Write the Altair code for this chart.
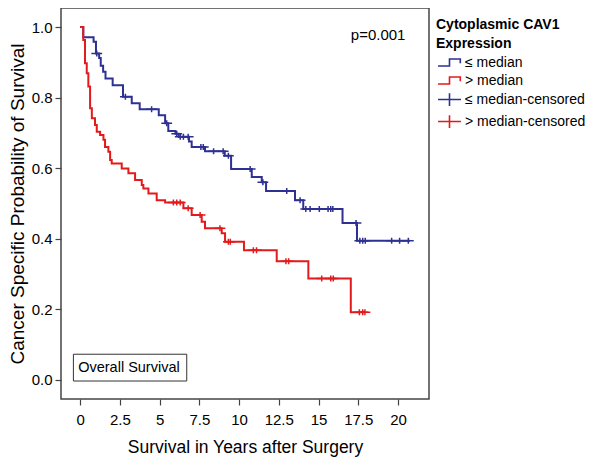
import altair as alt
import pandas as pd
import numpy as np

# ---- data ----
GROUPS = ["≤ median", "> median", "≤ median-censored", "> median-censored"]
COLORS = ["#2e3192", "#e31a1c", "#2e3192", "#e31a1c"]

# Kaplan-Meier steps (time in years, survival after the step)
LOW_T = [0, 0.2, 0.85, 1.0, 1.2, 1.3, 1.45, 1.6, 2.05, 2.7, 3.25, 3.75, 4.95, 5.35,
         5.55, 6.0, 6.2, 6.85, 7.02, 7.86, 9.1, 9.5, 10.8, 11.43, 11.7, 13.52, 14.04,
         16.51, 17.42, 20.75]
LOW_S = [1.0, 0.971, 0.958, 0.925, 0.912, 0.89, 0.873, 0.854, 0.835, 0.802, 0.784, 0.767,
         0.75, 0.727, 0.705, 0.697, 0.689, 0.675, 0.66, 0.648, 0.635, 0.597, 0.575, 0.56,
         0.535, 0.509, 0.484, 0.444, 0.394, 0.394]

HIGH_T = [0, 0.2, 0.31, 0.42, 0.52, 0.63, 0.74, 0.94, 1.05, 1.26, 1.47, 1.57, 1.78, 1.89,
          1.99, 2.62, 3.04, 3.46, 3.88, 3.98, 4.3, 4.82, 5.35, 6.5, 7.02, 7.65, 7.86, 8.91,
          9.12, 10.31, 12.37, 14.36, 17.03, 17.92]
HIGH_S = [1.0, 0.963, 0.897, 0.869, 0.831, 0.77, 0.741, 0.722, 0.703, 0.694, 0.68, 0.66,
          0.646, 0.623, 0.613, 0.599, 0.585, 0.566, 0.552, 0.542, 0.528, 0.509, 0.502, 0.486,
          0.467, 0.448, 0.429, 0.415, 0.391, 0.367, 0.336, 0.287, 0.191, 0.191]

# censoring times
LOW_CENS = [1.05, 2.85, 4.5, 5.45, 6.08, 6.3, 6.5, 6.8, 7.6, 7.75, 8.4, 9.0, 9.33, 10.7,
            11.5, 13.0, 13.84, 14.2, 14.47, 15.05, 15.6, 15.77, 15.9, 17.36, 17.6, 17.78,
            17.94, 19.6, 20.1, 20.65]
HIGH_CENS = [5.87, 6.08, 6.3, 6.8, 7.55, 8.8, 9.33, 9.45, 10.9, 11.1, 12.95, 13.12, 15.2,
             15.77, 15.93, 17.57, 17.78, 17.92]

X_TICKS = [0, 2.5, 5, 7.5, 10, 12.5, 15, 17.5, 20]
Y_TICKS = [0.0, 0.2, 0.4, 0.6, 0.8, 1.0]

P_TEXT = ["p=0.001"]
P_POS = ([18.75], [0.977])
BOX_TEXT = ["Overall Survival"]
BOX_X = [-0.42, 6.71]
BOX_Y = [-0.004, 0.072]
BOX_TEXT_POS = ([-0.12], [0.034])

STEP_PATH = "M-1.35,0.41H0V-0.41H1.27V0.1"
CROSS_PATH = "M-1.35,0H1.35M0,-0.75V0.75"
SHAPES = [STEP_PATH, STEP_PATH, CROSS_PATH, CROSS_PATH]

# ---- tables ----
lines_df = pd.concat([
    pd.DataFrame({"t": LOW_T, "s": LOW_S, "group": GROUPS[0]}),
    pd.DataFrame({"t": HIGH_T, "s": HIGH_S, "group": GROUPS[1]}),
])


def lookup(T, S, times):
    idx = np.searchsorted(np.array(T), np.array(times), side="right") - 1
    return [S[i] for i in idx]


cens_df = pd.concat([
    pd.DataFrame({"t": LOW_CENS, "s": lookup(LOW_T, LOW_S, LOW_CENS), "group": GROUPS[2]}),
    pd.DataFrame({"t": HIGH_CENS, "s": lookup(HIGH_T, HIGH_S, HIGH_CENS), "group": GROUPS[3]}),
])

FONT = "Liberation Sans"
xscale = alt.Scale(domain=[-1.2, 21.95], nice=False, zero=False)
yscale = alt.Scale(domain=[-0.055, 1.054], nice=False, zero=False)
line_scale = alt.Scale(domain=GROUPS[:2], range=COLORS[:2])
cscale = alt.Scale(domain=GROUPS, range=COLORS)
sscale = alt.Scale(domain=GROUPS, range=SHAPES)

xaxis = alt.Axis(values=X_TICKS, title="Survival in Years after Surgery",
                 labelExpr="datum.value % 1 == 0 ? format(datum.value, 'd') : format(datum.value, '.1f')",
                 grid=False, domain=False, tickSize=6, tickColor="#444", tickWidth=1.2,
                 labelFontSize=15, titleFontSize=17.5, titleFontWeight="normal",
                 labelPadding=7, titlePadding=11, labelColor="black", titleColor="black",
                 labelFlush=False)
yaxis = alt.Axis(values=Y_TICKS, format=".1f", title="Cancer Specific Probability of Survival",
                 grid=False, domain=False, tickSize=6, tickColor="#444", tickWidth=1.2,
                 labelFontSize=15, titleFontSize=19, titleFontWeight="normal",
                 labelPadding=3, titlePadding=4, labelColor="black", titleColor="black",
                 labelFlush=False)

legend = alt.Legend(title=["Cytoplasmic CAV1", "Expression"], orient="right",
                    offset=-3, padding=10,
                    titleFontSize=14, titleFontWeight="bold", titleColor="black",
                    titleLineHeight=19, titlePadding=2,
                    labelFontSize=14, labelColor="black", labelOffset=6,
                    symbolOffset=4,
                    symbolSize=289, symbolStrokeWidth=1.6, rowPadding=1)

lines = alt.Chart(lines_df).mark_line(interpolate="step-after", strokeWidth=2).encode(
    x=alt.X("t:Q", scale=xscale, axis=xaxis),
    y=alt.Y("s:Q", scale=yscale, axis=yaxis),
    stroke=alt.Stroke("group:N", scale=line_scale, legend=None),
)

cens = alt.Chart(cens_df).mark_point(filled=False, strokeWidth=1.5, size=64, opacity=1).encode(
    x=alt.X("t:Q", scale=xscale),
    y=alt.Y("s:Q", scale=yscale),
    color=alt.Color("group:N", scale=cscale, legend=legend),
    shape=alt.Shape("group:N", scale=sscale, legend=legend),
)

ptext = alt.Chart(pd.DataFrame({"t": P_POS[0], "s": P_POS[1], "label": P_TEXT})).mark_text(
    align="center", baseline="middle", fontSize=15, color="black").encode(
    x=alt.X("t:Q", scale=xscale), y=alt.Y("s:Q", scale=yscale), text="label:N")

box = alt.Chart(pd.DataFrame({"x1": [BOX_X[0]], "x2": [BOX_X[1]],
                              "y1": [BOX_Y[0]], "y2": [BOX_Y[1]]})).mark_rect(
    fill="white", stroke="#333", strokeWidth=1).encode(
    x=alt.X("x1:Q", scale=xscale), x2="x2:Q",
    y=alt.Y("y1:Q", scale=yscale), y2="y2:Q")

box_text = alt.Chart(pd.DataFrame({"t": BOX_TEXT_POS[0], "s": BOX_TEXT_POS[1],
                                   "label": BOX_TEXT})).mark_text(
    align="left", baseline="middle", fontSize=14.5, color="black").encode(
    x=alt.X("t:Q", scale=xscale), y=alt.Y("s:Q", scale=yscale), text="label:N")

chart = alt.layer(box, box_text, lines, cens, ptext).properties(
    width=368, height=391,
    padding={"left": 53, "top": 0, "right": 163, "bottom": 58},
    autosize=alt.AutoSizeParams(type="none"),
).configure(font=FONT).configure_view(stroke="#444", strokeWidth=1.5)

chart.save("out.html", embed_options={"renderer": "svg", "actions": False})
